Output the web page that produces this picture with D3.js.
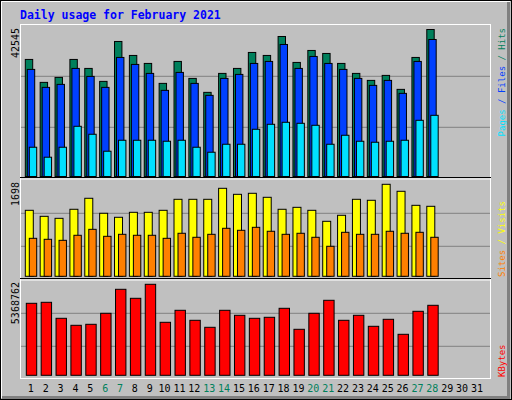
<!DOCTYPE html>
<html><head><meta charset="utf-8">
<script src="https://cdn.jsdelivr.net/npm/d3@7"></script>
<style>body{margin:0;background:#fff}svg{display:block}text{font-family:"DejaVu Sans Mono",monospace}</style>
</head><body><div id="chart"></div>
<script>
// Daily usage data for February 2021
const days = d3.range(1, 32);
const weekends = [6, 7, 13, 14, 20, 21, 27, 28];
const hits = [33880, 27239, 28683, 33880, 31281, 27528, 39078, 35035, 32725, 26950, 33303, 28394, 24351, 29838, 31281, 35901, 35035, 40521, 33014, 36479, 35613, 32725, 29838, 27816, 29260, 25218, 34458, 42545];
const files = [30993, 25795, 26661, 31281, 28971, 25795, 34458, 32436, 29838, 24929, 30126, 26950, 23485, 28394, 29549, 32725, 33303, 38211, 31281, 34746, 32725, 30993, 28394, 26373, 27816, 24063, 33303, 39655];
const pages = [8470, 5583, 8470, 14534, 12224, 7315, 10491, 10491, 10491, 10203, 10491, 8470, 7026, 9336, 9336, 13668, 15111, 15689, 15400, 14823, 9336, 11935, 10203, 9914, 10203, 10491, 16266, 17710];
const visits = [1218, 1107, 1070, 1237, 1440, 1163, 1089, 1181, 1181, 1218, 1421, 1421, 1421, 1624, 1513, 1532, 1458, 1237, 1273, 1218, 1015, 1126, 1421, 1403, 1698, 1569, 1310, 1292];
const sites = [701, 683, 664, 757, 867, 738, 775, 757, 757, 701, 794, 720, 775, 886, 849, 904, 831, 775, 794, 720, 554, 812, 775, 775, 831, 794, 812, 720];
const kbytes = [4247856, 4306854, 3362886, 2949900, 3008898, 3657876, 5073828, 4542846, 5368762, 3126894, 3834870, 3244890, 2831904, 3834870, 3539880, 3362886, 3421884, 3952866, 2713908, 3657876, 4424850, 3244890, 3539880, 2890902, 3303888, 2418918, 3775872, 4129860];

const W = 512, H = 400;
const svg = d3.select('#chart').append('svg').attr('width', W).attr('height', H);

// frame
svg.append('rect').attr('x', 0.5).attr('y', 0.5).attr('width', W - 1).attr('height', H - 1).attr('fill', '#c0c0c0').attr('stroke', '#000');
svg.append('path').attr('d', 'M1.5,398V1.5H510').attr('stroke', '#fff').attr('fill', 'none');
svg.append('path').attr('d', 'M2,397.5H508.5V2').attr('stroke', '#808080').attr('stroke-width', 3).attr('fill', 'none');

svg.append('text').attr('x', 20).attr('y', 19).attr('fill', '#0000ff').attr('font-weight', 'bold')
  .attr('font-size', 11.5).text('Daily usage for February 2021');

const x = d3.scaleLinear().domain([1, 31]).range([25.3, 471.4]);

const panels = [
  { top: 24.5, bottom: 177.5, y: d3.scaleLinear([0, 42545], [176.5, 29.5]), max: 42545, labTop: 28,
    grids: [127.3, 76.3],
    series: [{ v: hits, c: '#00805c', off: 0, w: 7.4 }, { v: files, c: '#0040ff', off: 2, w: 7.4 }, { v: pages, c: '#00e0ff', off: 4, w: 7.4 }] },
  { top: 179, bottom: 278.5, y: d3.scaleLinear([0, 1698], [276.3, 184.3]), max: 1698, labTop: 182,
    grids: [246.3, 213.3],
    series: [{ v: visits, c: '#ffff00', off: 0, w: 8 }, { v: sites, c: '#ff8000', off: 4, w: 7.4 }] },
  { top: 280, bottom: 378, y: d3.scaleLinear([0, 5368762], [375.3, 284.3]), max: 5368762, labTop: 282,
    grids: [346.3, 313.3],
    series: [{ v: kbytes, c: '#ff0000', off: 1, w: 10.4 }] }
];

panels.forEach(p => {
  svg.append('line').attr('x1', 20).attr('x2', 491).attr('y1', p.top).attr('y2', p.top).attr('stroke', '#fff');
  p.grids.forEach(g => svg.append('line').attr('x1', 21).attr('x2', 490).attr('y1', g).attr('y2', g).attr('stroke', '#808080'));
  p.series.forEach(s => {
    svg.append('g').selectAll('rect').data(s.v).join('rect')
      .attr('x', (d, i) => x(i + 1) + s.off)
      .attr('y', d => p.y(d))
      .attr('width', s.w)
      .attr('height', d => p.y(0) - p.y(d))
      .attr('fill', s.c).attr('stroke', '#000').attr('stroke-width', 1);
  });
  svg.append('text').attr('transform', `translate(19,${p.labTop}) rotate(-90)`).attr('text-anchor', 'end')
    .attr('font-size', 10).attr('fill', '#000').text(p.max);
});
// plot area edges
svg.append('line').attr('x1', 20.5).attr('x2', 20.5).attr('y1', 24).attr('y2', 378).attr('stroke', '#fff');
svg.append('line').attr('x1', 490.5).attr('x2', 490.5).attr('y1', 24).attr('y2', 378).attr('stroke', '#fff');
svg.append('line').attr('x1', 20).attr('x2', 491).attr('y1', 378.5).attr('y2', 378.5).attr('stroke', '#fff');
[177.5, 278.5].forEach(yy => svg.append('line').attr('x1', 20).attr('x2', 491).attr('y1', yy).attr('y2', yy).attr('stroke', '#000'));

// right legends
function legend(parts, y0, anchor) {
  const t = svg.append('text').attr('transform', `translate(505,${y0}) rotate(-90)`).attr('text-anchor', anchor).attr('font-size', 9);
  parts.forEach(([s, c]) => t.append('tspan').attr('fill', c).text(s));
}
legend([['Pages', '#00e0ff'], [' / ', '#0040ff'], ['Files', '#0040ff'], [' / ', '#00805c'], ['Hits', '#00805c']], 28, 'end');
legend([['Sites', '#ff8000'], [' / ', '#ffff00'], ['Visits', '#ffff00']], 277, 'start');
legend([['KBytes', '#ff0000']], 377, 'start');

// day labels
svg.append('g').selectAll('text').data(days).join('text')
  .attr('x', d => x(d) + 5.5).attr('y', 392).attr('text-anchor', 'middle').attr('font-size', 10)
  .attr('fill', d => weekends.includes(d) ? '#00805c' : '#000').text(d => d);
</script></body></html>
